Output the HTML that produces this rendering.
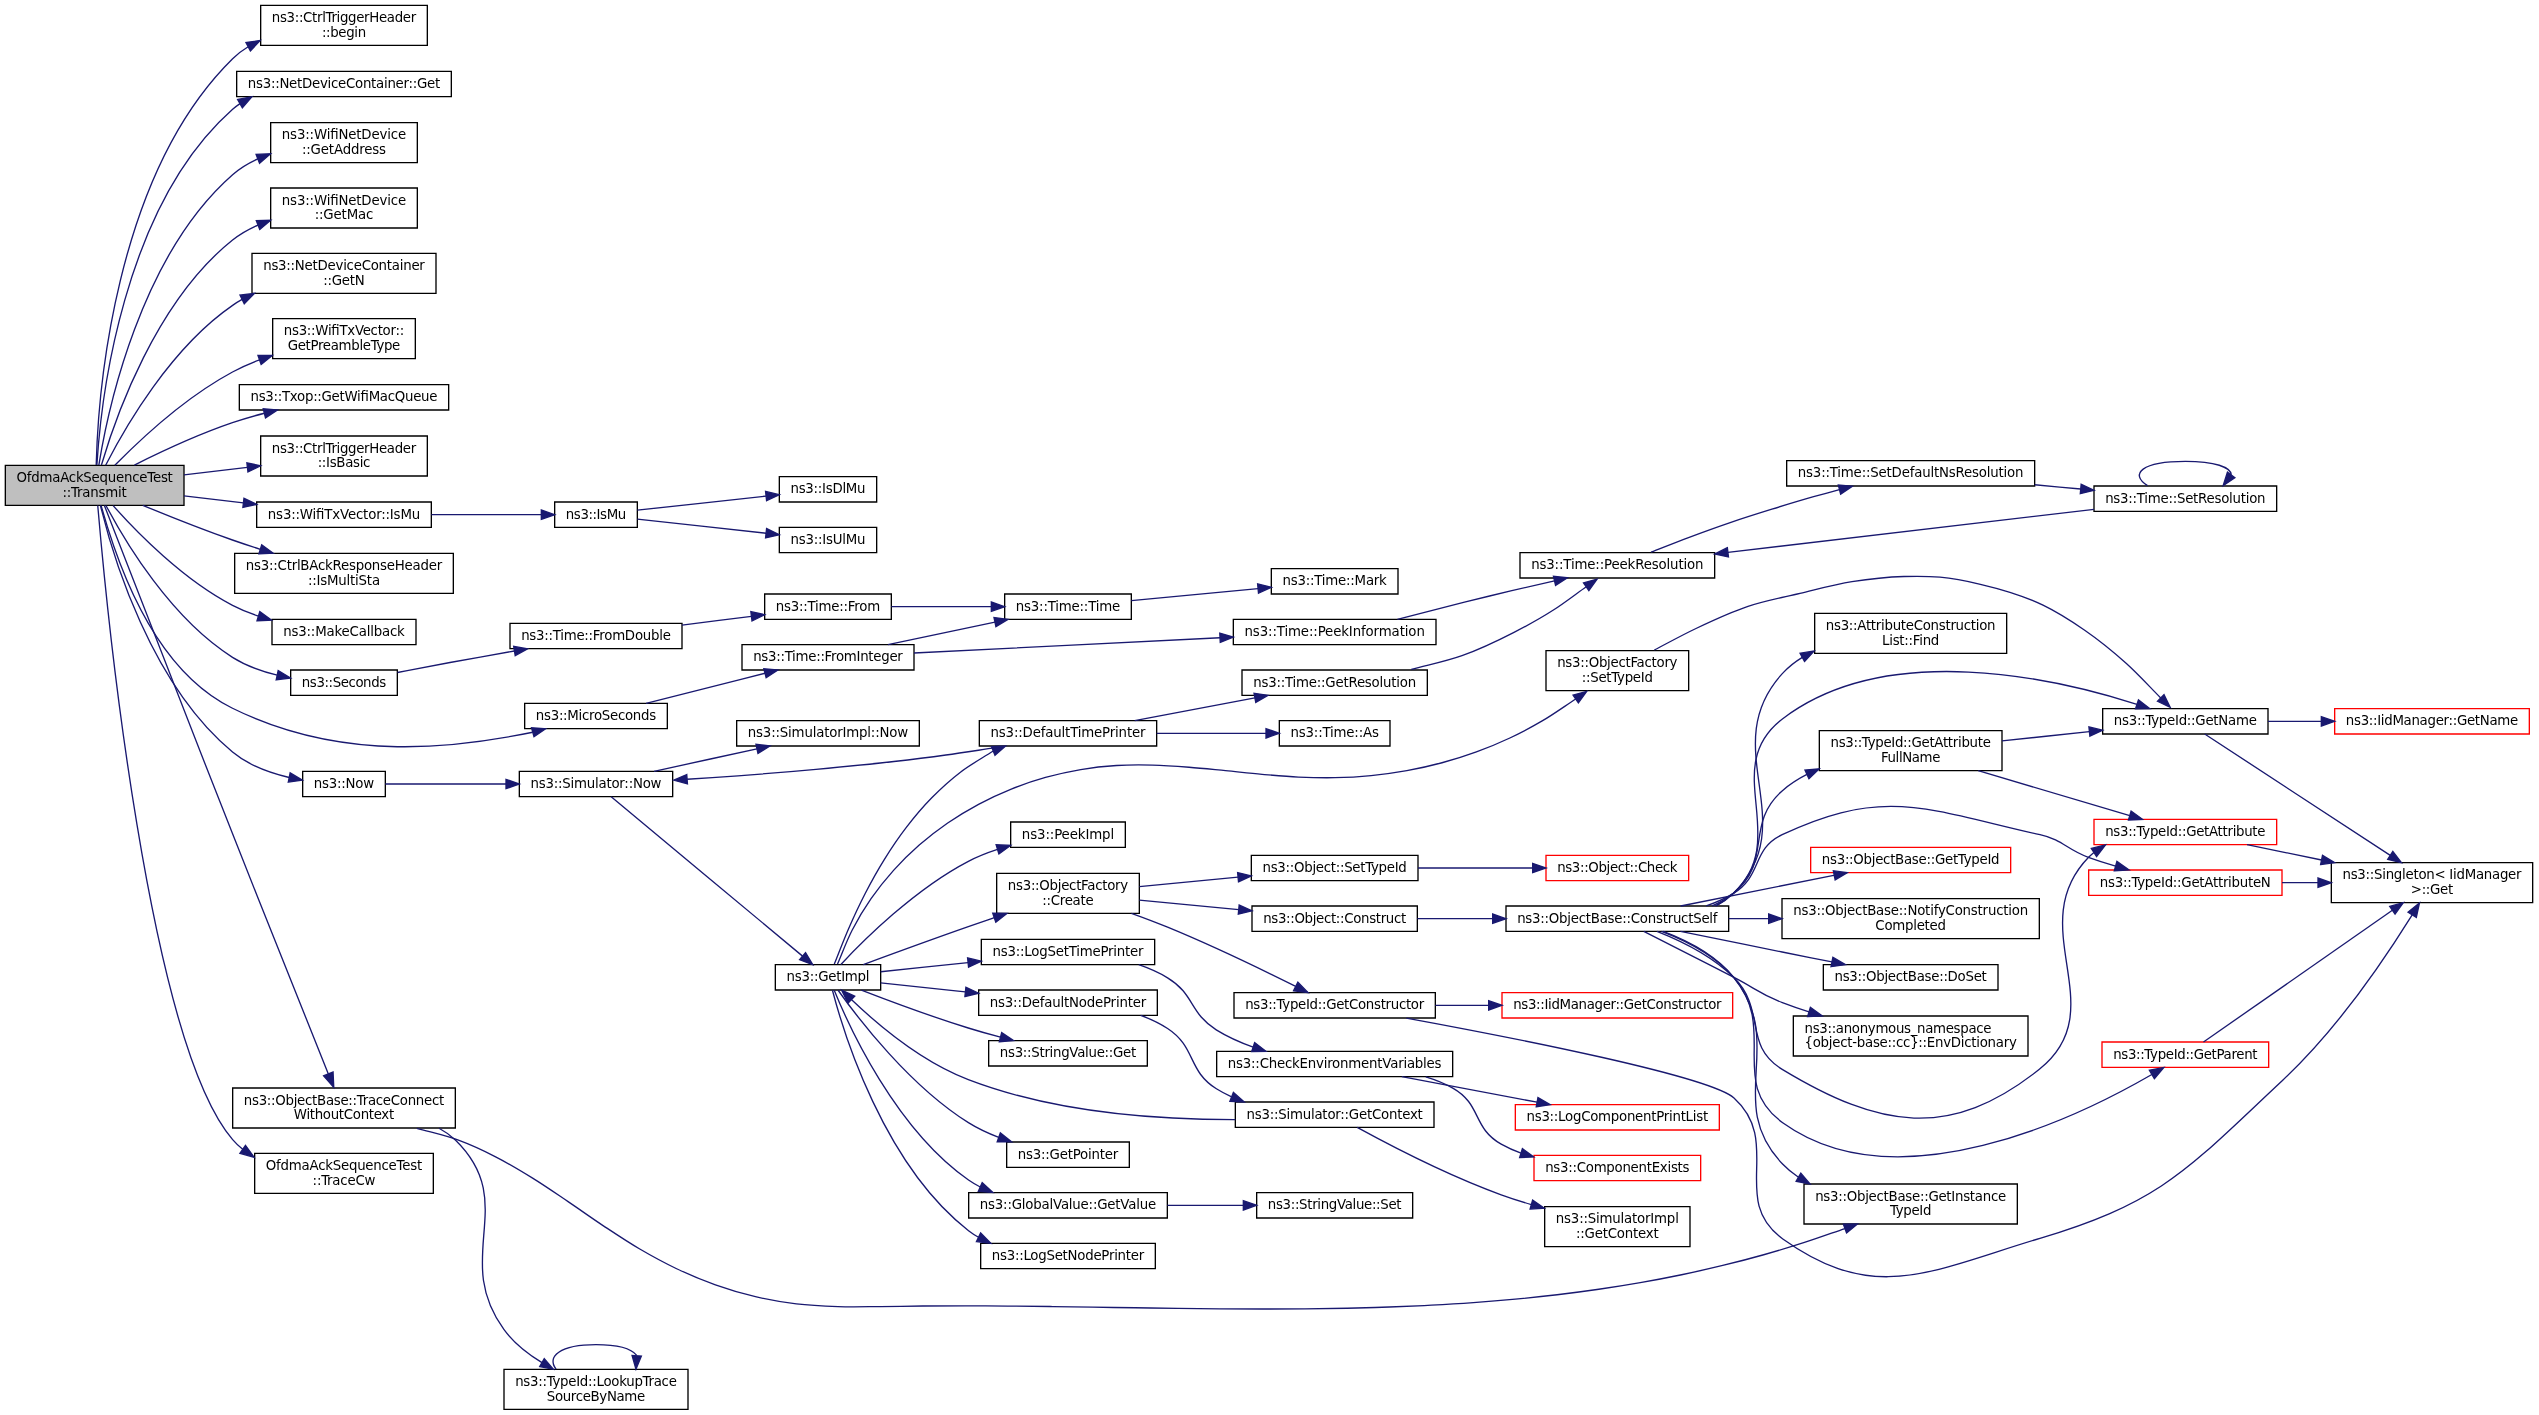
<!DOCTYPE html>
<html lang="en"><head><meta charset="utf-8"><title>OfdmaAckSequenceTest::Transmit</title>
<style>html,body{margin:0;padding:0;background:#fff}svg{display:block;will-change:transform}text{font-family:"DejaVu Sans","Liberation Sans",sans-serif;font-size:13.3333px;fill:#000}.e path{fill:none;stroke:#191970;stroke-width:1.3333}.e polygon{fill:#191970;stroke:#191970;stroke-width:1.3333}.n polygon{stroke-width:1.3333}</style></head><body>
<svg width="2539" height="1415" viewBox="0 0 2539 1415">
<rect x="0" y="0" width="2539" height="1415" fill="#fff"/>
<g class="n"><polygon fill="#bfbfbf" stroke="#000" points="5.33,505.33 5.33,465.33 184,465.33 184,505.33 5.33,505.33"/><text text-anchor="start" x="16.5" y="481.83" textLength="156.33" lengthAdjust="spacing">OfdmaAckSequenceTest</text><text text-anchor="middle" x="94.67" y="496.5" textLength="64.32" lengthAdjust="spacing">::Transmit</text></g>
<g class="n"><polygon fill="#fff" stroke="#000" points="260.67,45.33 260.67,5.33 427.33,5.33 427.33,45.33 260.67,45.33"/><text text-anchor="start" x="271.83" y="21.83" textLength="144.33" lengthAdjust="spacing">ns3::CtrlTriggerHeader</text><text text-anchor="middle" x="344" y="36.5" textLength="44.2" lengthAdjust="spacing">::begin</text></g>
<g class="n"><polygon fill="#fff" stroke="#000" points="236.67,96.67 236.67,71.33 451.33,71.33 451.33,96.67 236.67,96.67"/><text text-anchor="middle" x="344" y="87.83" textLength="192.33" lengthAdjust="spacing">ns3::NetDeviceContainer::Get</text></g>
<g class="n"><polygon fill="#fff" stroke="#000" points="270.67,162.67 270.67,122.67 417.33,122.67 417.33,162.67 270.67,162.67"/><text text-anchor="start" x="281.83" y="139.17" textLength="124.33" lengthAdjust="spacing">ns3::WifiNetDevice</text><text text-anchor="middle" x="344" y="153.83" textLength="84.15" lengthAdjust="spacing">::GetAddress</text></g>
<g class="n"><polygon fill="#fff" stroke="#000" points="270.67,228 270.67,188 417.33,188 417.33,228 270.67,228"/><text text-anchor="start" x="281.83" y="204.5" textLength="124.33" lengthAdjust="spacing">ns3::WifiNetDevice</text><text text-anchor="middle" x="344" y="219.17" textLength="58.57" lengthAdjust="spacing">::GetMac</text></g>
<g class="n"><polygon fill="#fff" stroke="#000" points="252,293.33 252,253.33 436,253.33 436,293.33 252,293.33"/><text text-anchor="start" x="263.17" y="269.83" textLength="161.67" lengthAdjust="spacing">ns3::NetDeviceContainer</text><text text-anchor="middle" x="344" y="284.5" textLength="41.36" lengthAdjust="spacing">::GetN</text></g>
<g class="n"><polygon fill="#fff" stroke="#000" points="272.67,358.67 272.67,318.67 415.33,318.67 415.33,358.67 272.67,358.67"/><text text-anchor="start" x="283.83" y="335.17" textLength="120.33" lengthAdjust="spacing">ns3::WifiTxVector::</text><text text-anchor="middle" x="344" y="349.83" textLength="112.62" lengthAdjust="spacing">GetPreambleType</text></g>
<g class="n"><polygon fill="#fff" stroke="#000" points="239.33,410 239.33,384.67 448.67,384.67 448.67,410 239.33,410"/><text text-anchor="middle" x="344" y="401.17" textLength="187" lengthAdjust="spacing">ns3::Txop::GetWifiMacQueue</text></g>
<g class="n"><polygon fill="#fff" stroke="#000" points="260.67,476 260.67,436 427.33,436 427.33,476 260.67,476"/><text text-anchor="start" x="271.83" y="452.5" textLength="144.33" lengthAdjust="spacing">ns3::CtrlTriggerHeader</text><text text-anchor="middle" x="344" y="467.17" textLength="52.7" lengthAdjust="spacing">::IsBasic</text></g>
<g class="n"><polygon fill="#fff" stroke="#000" points="256.67,527.33 256.67,502 431.33,502 431.33,527.33 256.67,527.33"/><text text-anchor="middle" x="344" y="518.5" textLength="152.33" lengthAdjust="spacing">ns3::WifiTxVector::IsMu</text></g>
<g class="n"><polygon fill="#fff" stroke="#000" points="234.67,593.33 234.67,553.33 453.33,553.33 453.33,593.33 234.67,593.33"/><text text-anchor="start" x="245.83" y="569.83" textLength="196.33" lengthAdjust="spacing">ns3::CtrlBAckResponseHeader</text><text text-anchor="middle" x="344" y="584.5" textLength="72.15" lengthAdjust="spacing">::IsMultiSta</text></g>
<g class="n"><polygon fill="#fff" stroke="#000" points="272,644.67 272,619.33 416,619.33 416,644.67 272,644.67"/><text text-anchor="middle" x="344" y="635.83" textLength="121.67" lengthAdjust="spacing">ns3::MakeCallback</text></g>
<g class="n"><polygon fill="#fff" stroke="#000" points="524.67,728.67 524.67,703.33 667.33,703.33 667.33,728.67 524.67,728.67"/><text text-anchor="middle" x="596" y="719.83" textLength="120.33" lengthAdjust="spacing">ns3::MicroSeconds</text></g>
<g class="n"><polygon fill="#fff" stroke="#000" points="302.67,796.67 302.67,771.33 385.33,771.33 385.33,796.67 302.67,796.67"/><text text-anchor="middle" x="344" y="787.83" textLength="60.33" lengthAdjust="spacing">ns3::Now</text></g>
<g class="n"><polygon fill="#fff" stroke="#000" points="290.67,695.33 290.67,670 397.33,670 397.33,695.33 290.67,695.33"/><text text-anchor="middle" x="344" y="686.5" textLength="84.33" lengthAdjust="spacing">ns3::Seconds</text></g>
<g class="n"><polygon fill="#fff" stroke="#000" points="232.67,1128 232.67,1088 455.33,1088 455.33,1128 232.67,1128"/><text text-anchor="start" x="243.83" y="1104.5" textLength="200.33" lengthAdjust="spacing">ns3::ObjectBase::TraceConnect</text><text text-anchor="middle" x="344" y="1119.17" textLength="100.38" lengthAdjust="spacing">WithoutContext</text></g>
<g class="n"><polygon fill="#fff" stroke="#000" points="254.67,1193.33 254.67,1153.33 433.33,1153.33 433.33,1193.33 254.67,1193.33"/><text text-anchor="start" x="265.83" y="1169.83" textLength="156.33" lengthAdjust="spacing">OfdmaAckSequenceTest</text><text text-anchor="middle" x="344" y="1184.5" textLength="62.79" lengthAdjust="spacing">::TraceCw</text></g>
<g class="n"><polygon fill="#fff" stroke="#000" points="554.67,527.33 554.67,502 637.33,502 637.33,527.33 554.67,527.33"/><text text-anchor="middle" x="596" y="518.5" textLength="60.33" lengthAdjust="spacing">ns3::IsMu</text></g>
<g class="n"><polygon fill="#fff" stroke="#000" points="779.33,502 779.33,476.67 876.67,476.67 876.67,502 779.33,502"/><text text-anchor="middle" x="828" y="493.17" textLength="75" lengthAdjust="spacing">ns3::IsDlMu</text></g>
<g class="n"><polygon fill="#fff" stroke="#000" points="779.33,552.67 779.33,527.33 876.67,527.33 876.67,552.67 779.33,552.67"/><text text-anchor="middle" x="828" y="543.83" textLength="75" lengthAdjust="spacing">ns3::IsUlMu</text></g>
<g class="n"><polygon fill="#fff" stroke="#000" points="742,670 742,644.67 914,644.67 914,670 742,670"/><text text-anchor="middle" x="828" y="661.17" textLength="149.67" lengthAdjust="spacing">ns3::Time::FromInteger</text></g>
<g class="n"><polygon fill="#fff" stroke="#000" points="1233.33,644.67 1233.33,619.33 1436,619.33 1436,644.67 1233.33,644.67"/><text text-anchor="middle" x="1334.67" y="635.83" textLength="180.33" lengthAdjust="spacing">ns3::Time::PeekInformation</text></g>
<g class="n"><polygon fill="#fff" stroke="#000" points="1004.67,619.33 1004.67,594 1131.33,594 1131.33,619.33 1004.67,619.33"/><text text-anchor="middle" x="1068" y="610.5" textLength="104.33" lengthAdjust="spacing">ns3::Time::Time</text></g>
<g class="n"><polygon fill="#fff" stroke="#000" points="1520,578 1520,552.67 1714.67,552.67 1714.67,578 1520,578"/><text text-anchor="middle" x="1617.33" y="569.17" textLength="172.33" lengthAdjust="spacing">ns3::Time::PeekResolution</text></g>
<g class="n"><polygon fill="#fff" stroke="#000" points="1786.67,486 1786.67,460.67 2034.67,460.67 2034.67,486 1786.67,486"/><text text-anchor="middle" x="1910.67" y="477.17" textLength="225.67" lengthAdjust="spacing">ns3::Time::SetDefaultNsResolution</text></g>
<g class="n"><polygon fill="#fff" stroke="#000" points="2094,511.33 2094,486 2276.67,486 2276.67,511.33 2094,511.33"/><text text-anchor="middle" x="2185.33" y="502.5" textLength="160.33" lengthAdjust="spacing">ns3::Time::SetResolution</text></g>
<g class="n"><polygon fill="#fff" stroke="#000" points="1271.33,594 1271.33,568.67 1398,568.67 1398,594 1271.33,594"/><text text-anchor="middle" x="1334.67" y="585.17" textLength="104.33" lengthAdjust="spacing">ns3::Time::Mark</text></g>
<g class="n"><polygon fill="#fff" stroke="#000" points="519.33,796.67 519.33,771.33 672.67,771.33 672.67,796.67 519.33,796.67"/><text text-anchor="middle" x="596" y="787.83" textLength="131" lengthAdjust="spacing">ns3::Simulator::Now</text></g>
<g class="n"><polygon fill="#fff" stroke="#000" points="775.33,990 775.33,964.67 880.67,964.67 880.67,990 775.33,990"/><text text-anchor="middle" x="828" y="981.17" textLength="83" lengthAdjust="spacing">ns3::GetImpl</text></g>
<g class="n"><polygon fill="#fff" stroke="#000" points="736.67,746 736.67,720.67 919.33,720.67 919.33,746 736.67,746"/><text text-anchor="middle" x="828" y="737.17" textLength="160.33" lengthAdjust="spacing">ns3::SimulatorImpl::Now</text></g>
<g class="n"><polygon fill="#fff" stroke="#000" points="996.67,913.33 996.67,873.33 1139.33,873.33 1139.33,913.33 996.67,913.33"/><text text-anchor="start" x="1007.83" y="889.83" textLength="120.33" lengthAdjust="spacing">ns3::ObjectFactory</text><text text-anchor="middle" x="1068" y="904.5" textLength="51.31" lengthAdjust="spacing">::Create</text></g>
<g class="n"><polygon fill="#fff" stroke="#000" points="978.67,1015.33 978.67,990 1157.33,990 1157.33,1015.33 978.67,1015.33"/><text text-anchor="middle" x="1068" y="1006.5" textLength="156.33" lengthAdjust="spacing">ns3::DefaultNodePrinter</text></g>
<g class="n"><polygon fill="#fff" stroke="#000" points="979.33,746 979.33,720.67 1156.67,720.67 1156.67,746 979.33,746"/><text text-anchor="middle" x="1068" y="737.17" textLength="155" lengthAdjust="spacing">ns3::DefaultTimePrinter</text></g>
<g class="n"><polygon fill="#fff" stroke="#000" points="988.67,1066 988.67,1040.67 1147.33,1040.67 1147.33,1066 988.67,1066"/><text text-anchor="middle" x="1068" y="1057.17" textLength="136.33" lengthAdjust="spacing">ns3::StringValue::Get</text></g>
<g class="n"><polygon fill="#fff" stroke="#000" points="1006.67,1167.33 1006.67,1142 1129.33,1142 1129.33,1167.33 1006.67,1167.33"/><text text-anchor="middle" x="1068" y="1158.5" textLength="100.33" lengthAdjust="spacing">ns3::GetPointer</text></g>
<g class="n"><polygon fill="#fff" stroke="#000" points="968.67,1218 968.67,1192.67 1167.33,1192.67 1167.33,1218 968.67,1218"/><text text-anchor="middle" x="1068" y="1209.17" textLength="176.33" lengthAdjust="spacing">ns3::GlobalValue::GetValue</text></g>
<g class="n"><polygon fill="#fff" stroke="#000" points="980.67,1268.67 980.67,1243.33 1155.33,1243.33 1155.33,1268.67 980.67,1268.67"/><text text-anchor="middle" x="1068" y="1259.83" textLength="152.33" lengthAdjust="spacing">ns3::LogSetNodePrinter</text></g>
<g class="n"><polygon fill="#fff" stroke="#000" points="981.33,964.67 981.33,939.33 1154.67,939.33 1154.67,964.67 981.33,964.67"/><text text-anchor="middle" x="1068" y="955.83" textLength="151" lengthAdjust="spacing">ns3::LogSetTimePrinter</text></g>
<g class="n"><polygon fill="#fff" stroke="#000" points="1010.67,847.33 1010.67,822 1125.33,822 1125.33,847.33 1010.67,847.33"/><text text-anchor="middle" x="1068" y="838.5" textLength="92.33" lengthAdjust="spacing">ns3::PeekImpl</text></g>
<g class="n"><polygon fill="#fff" stroke="#000" points="1546,690.67 1546,650.67 1688.67,650.67 1688.67,690.67 1546,690.67"/><text text-anchor="start" x="1557.17" y="667.17" textLength="120.33" lengthAdjust="spacing">ns3::ObjectFactory</text><text text-anchor="middle" x="1617.33" y="681.83" textLength="71.14" lengthAdjust="spacing">::SetTypeId</text></g>
<g class="n"><polygon fill="#fff" stroke="#000" points="1252,931.33 1252,906 1417.33,906 1417.33,931.33 1252,931.33"/><text text-anchor="middle" x="1334.67" y="922.5" textLength="143" lengthAdjust="spacing">ns3::Object::Construct</text></g>
<g class="n"><polygon fill="#fff" stroke="#000" points="1234,1018 1234,992.67 1435.33,992.67 1435.33,1018 1234,1018"/><text text-anchor="middle" x="1334.67" y="1009.17" textLength="179" lengthAdjust="spacing">ns3::TypeId::GetConstructor</text></g>
<g class="n"><polygon fill="#fff" stroke="#000" points="1251.33,880.67 1251.33,855.33 1418,855.33 1418,880.67 1251.33,880.67"/><text text-anchor="middle" x="1334.67" y="871.83" textLength="144.33" lengthAdjust="spacing">ns3::Object::SetTypeId</text></g>
<g class="n"><polygon fill="#fff" stroke="#000" points="1506,931.33 1506,906 1728.67,906 1728.67,931.33 1506,931.33"/><text text-anchor="middle" x="1617.33" y="922.5" textLength="200.33" lengthAdjust="spacing">ns3::ObjectBase::ConstructSelf</text></g>
<g class="n"><polygon fill="#fff" stroke="#000" points="1823.33,990 1823.33,964.67 1998,964.67 1998,990 1823.33,990"/><text text-anchor="middle" x="1910.67" y="981.17" textLength="152.33" lengthAdjust="spacing">ns3::ObjectBase::DoSet</text></g>
<g class="n"><polygon fill="#fff" stroke="#000" points="1793.33,1056 1793.33,1016 2028,1016 2028,1056 1793.33,1056"/><text text-anchor="start" x="1804.5" y="1032.5" textLength="186.99" lengthAdjust="spacing">ns3::anonymous_namespace</text><text text-anchor="middle" x="1910.67" y="1047.17" textLength="212.33" lengthAdjust="spacing">{object-base::cc}::EnvDictionary</text></g>
<g class="n"><polygon fill="#fff" stroke="#000" points="1814.67,653.33 1814.67,613.33 2006.67,613.33 2006.67,653.33 1814.67,653.33"/><text text-anchor="start" x="1825.83" y="629.83" textLength="169.67" lengthAdjust="spacing">ns3::AttributeConstruction</text><text text-anchor="middle" x="1910.67" y="644.5" textLength="57.26" lengthAdjust="spacing">List::Find</text></g>
<g class="n"><polygon fill="#fff" stroke="#f00" points="2094,844.67 2094,819.33 2276.67,819.33 2276.67,844.67 2094,844.67"/><text text-anchor="middle" x="2185.33" y="835.83" textLength="160.33" lengthAdjust="spacing">ns3::TypeId::GetAttribute</text></g>
<g class="n"><polygon fill="#fff" stroke="#000" points="1819.33,770.67 1819.33,730.67 2002,730.67 2002,770.67 1819.33,770.67"/><text text-anchor="start" x="1830.5" y="747.17" textLength="160.33" lengthAdjust="spacing">ns3::TypeId::GetAttribute</text><text text-anchor="middle" x="1910.67" y="761.83" textLength="59.48" lengthAdjust="spacing">FullName</text></g>
<g class="n"><polygon fill="#fff" stroke="#000" points="2102.67,734 2102.67,708.67 2268,708.67 2268,734 2102.67,734"/><text text-anchor="middle" x="2185.33" y="725.17" textLength="143" lengthAdjust="spacing">ns3::TypeId::GetName</text></g>
<g class="n"><polygon fill="#fff" stroke="#f00" points="2088.67,895.33 2088.67,870 2282,870 2282,895.33 2088.67,895.33"/><text text-anchor="middle" x="2185.33" y="886.5" textLength="171" lengthAdjust="spacing">ns3::TypeId::GetAttributeN</text></g>
<g class="n"><polygon fill="#fff" stroke="#000" points="1804,1224 1804,1184 2017.33,1184 2017.33,1224 1804,1224"/><text text-anchor="start" x="1815.17" y="1200.5" textLength="191" lengthAdjust="spacing">ns3::ObjectBase::GetInstance</text><text text-anchor="middle" x="1910.67" y="1215.17" textLength="41.47" lengthAdjust="spacing">TypeId</text></g>
<g class="n"><polygon fill="#fff" stroke="#f00" points="2102,1067.33 2102,1042 2268.67,1042 2268.67,1067.33 2102,1067.33"/><text text-anchor="middle" x="2185.33" y="1058.5" textLength="144.33" lengthAdjust="spacing">ns3::TypeId::GetParent</text></g>
<g class="n"><polygon fill="#fff" stroke="#f00" points="1810.67,872.67 1810.67,847.33 2010.67,847.33 2010.67,872.67 1810.67,872.67"/><text text-anchor="middle" x="1910.67" y="863.83" textLength="177.67" lengthAdjust="spacing">ns3::ObjectBase::GetTypeId</text></g>
<g class="n"><polygon fill="#fff" stroke="#000" points="1782,938.67 1782,898.67 2039.33,898.67 2039.33,938.67 1782,938.67"/><text text-anchor="start" x="1793.17" y="915.17" textLength="235" lengthAdjust="spacing">ns3::ObjectBase::NotifyConstruction</text><text text-anchor="middle" x="1910.67" y="929.83" textLength="70.61" lengthAdjust="spacing">Completed</text></g>
<g class="n"><polygon fill="#fff" stroke="#000" points="2331.33,902.67 2331.33,862.67 2532.67,862.67 2532.67,902.67 2331.33,902.67"/><text text-anchor="start" x="2342.5" y="879.17" textLength="179" lengthAdjust="spacing">ns3::Singleton&lt; IidManager</text><text text-anchor="middle" x="2432" y="893.83" textLength="42.35" lengthAdjust="spacing"> &gt;::Get</text></g>
<g class="n"><polygon fill="#fff" stroke="#f00" points="2334.67,734 2334.67,708.67 2529.33,708.67 2529.33,734 2334.67,734"/><text text-anchor="middle" x="2432" y="725.17" textLength="172.33" lengthAdjust="spacing">ns3::IidManager::GetName</text></g>
<g class="n"><polygon fill="#fff" stroke="#f00" points="1502,1018 1502,992.67 1732.67,992.67 1732.67,1018 1502,1018"/><text text-anchor="middle" x="1617.33" y="1009.17" textLength="208.33" lengthAdjust="spacing">ns3::IidManager::GetConstructor</text></g>
<g class="n"><polygon fill="#fff" stroke="#f00" points="1546,880.67 1546,855.33 1688.67,855.33 1688.67,880.67 1546,880.67"/><text text-anchor="middle" x="1617.33" y="871.83" textLength="120.33" lengthAdjust="spacing">ns3::Object::Check</text></g>
<g class="n"><polygon fill="#fff" stroke="#000" points="1235.33,1127.33 1235.33,1102 1434,1102 1434,1127.33 1235.33,1127.33"/><text text-anchor="middle" x="1334.67" y="1118.5" textLength="176.33" lengthAdjust="spacing">ns3::Simulator::GetContext</text></g>
<g class="n"><polygon fill="#fff" stroke="#000" points="1544.67,1246.67 1544.67,1206.67 1690,1206.67 1690,1246.67 1544.67,1246.67"/><text text-anchor="start" x="1555.83" y="1223.17" textLength="123" lengthAdjust="spacing">ns3::SimulatorImpl</text><text text-anchor="middle" x="1617.33" y="1237.83" textLength="82.76" lengthAdjust="spacing">::GetContext</text></g>
<g class="n"><polygon fill="#fff" stroke="#000" points="1279.33,746 1279.33,720.67 1390,720.67 1390,746 1279.33,746"/><text text-anchor="middle" x="1334.67" y="737.17" textLength="88.33" lengthAdjust="spacing">ns3::Time::As</text></g>
<g class="n"><polygon fill="#fff" stroke="#000" points="1242,695.33 1242,670 1427.33,670 1427.33,695.33 1242,695.33"/><text text-anchor="middle" x="1334.67" y="686.5" textLength="163" lengthAdjust="spacing">ns3::Time::GetResolution</text></g>
<g class="n"><polygon fill="#fff" stroke="#000" points="1256.67,1218 1256.67,1192.67 1412.67,1192.67 1412.67,1218 1256.67,1218"/><text text-anchor="middle" x="1334.67" y="1209.17" textLength="133.67" lengthAdjust="spacing">ns3::StringValue::Set</text></g>
<g class="n"><polygon fill="#fff" stroke="#000" points="1216.67,1076.67 1216.67,1051.33 1452.67,1051.33 1452.67,1076.67 1216.67,1076.67"/><text text-anchor="middle" x="1334.67" y="1067.83" textLength="213.67" lengthAdjust="spacing">ns3::CheckEnvironmentVariables</text></g>
<g class="n"><polygon fill="#fff" stroke="#f00" points="1534,1180.67 1534,1155.33 1700.67,1155.33 1700.67,1180.67 1534,1180.67"/><text text-anchor="middle" x="1617.33" y="1171.83" textLength="144.33" lengthAdjust="spacing">ns3::ComponentExists</text></g>
<g class="n"><polygon fill="#fff" stroke="#f00" points="1515.33,1130 1515.33,1104.67 1719.33,1104.67 1719.33,1130 1515.33,1130"/><text text-anchor="middle" x="1617.33" y="1121.17" textLength="181.67" lengthAdjust="spacing">ns3::LogComponentPrintList</text></g>
<g class="n"><polygon fill="#fff" stroke="#000" points="510,648.67 510,623.33 682,623.33 682,648.67 510,648.67"/><text text-anchor="middle" x="596" y="639.83" textLength="149.67" lengthAdjust="spacing">ns3::Time::FromDouble</text></g>
<g class="n"><polygon fill="#fff" stroke="#000" points="764.67,619.33 764.67,594 891.33,594 891.33,619.33 764.67,619.33"/><text text-anchor="middle" x="828" y="610.5" textLength="104.33" lengthAdjust="spacing">ns3::Time::From</text></g>
<g class="n"><polygon fill="#fff" stroke="#000" points="504,1409.33 504,1369.33 688,1369.33 688,1409.33 504,1409.33"/><text text-anchor="start" x="515.17" y="1385.83" textLength="161.67" lengthAdjust="spacing">ns3::TypeId::LookupTrace</text><text text-anchor="middle" x="596" y="1400.5" textLength="98.34" lengthAdjust="spacing">SourceByName</text></g>
<g class="e"><path d="M96.19,465.04C98.04,397.2 113.35,176.01 232.62,58.67 237.27,54.09 242.53,50.15 248.16,46.73"/><polygon points="250.35,50.94 260.17,40.47 245.96,42.53 250.35,50.94"/></g>
<g class="e"><path d="M96.88,464.93C100.87,401.65 121.99,207.16 232.63,109.33 234.96,107.28 237.43,105.37 239.99,103.61"/><polygon points="242.37,107.77 251.88,96.83 237.62,99.45 242.37,107.77"/></g>
<g class="e"><path d="M98.84,465.19C107.8,410.05 140.36,255.48 232.59,174.67 240.01,168.17 248.68,162.99 257.83,158.85"/><polygon points="259.58,163.3 270.55,153.85 256.08,154.4 259.58,163.3"/></g>
<g class="e"><path d="M101.44,465.04C115.2,418.07 155.69,301.23 232.58,240 240.18,233.95 248.9,229.03 258.01,225.05"/><polygon points="259.72,229.47 270.64,220.17 256.3,220.63 259.72,229.47"/></g>
<g class="e"><path d="M105.64,465.21C124.67,427.92 170.46,348.01 232.6,305.33 235.65,303.24 238.84,301.28 242.14,299.44"/><polygon points="244.27,303.75 254.44,293.35 240,295.13 244.27,303.75"/></g>
<g class="e"><path d="M114.85,465.28C139.67,440.12 185.54,397.24 232.52,372 241.01,367.44 250.2,363.43 259.54,359.89"/><polygon points="261.12,364.37 272.32,355.39 257.96,355.42 261.12,364.37"/></g>
<g class="e"><path d="M134.41,465.05C161.32,451.56 198.36,434.27 232.46,422.67 242.66,419.2 253.55,416.05 264.37,413.25"/><polygon points="265.5,417.84 277.48,410.01 263.23,408.66 265.5,417.84"/></g>
<g class="e"><path d="M184,474.82C205.14,472.34 226.28,469.85 247.42,467.36"/><polygon points="247.97,472 260.67,465.8 246.88,462.73 247.97,472"/></g>
<g class="e"><path d="M184,495.84C203.81,498.17 223.62,500.5 243.42,502.83"/><polygon points="242.88,507.47 256.67,504.39 243.97,498.2 242.88,507.47"/></g>
<g class="e"><path d="M142.81,505.33C169,516.16 202.29,529.44 232.46,540 241.44,543.15 250.89,546.27 260.31,549.27"/><polygon points="258.91,553.75 273.12,553.27 261.71,544.78 258.91,553.75"/></g>
<g class="e"><path d="M113.15,505.67C137.12,532.61 183.2,579.72 232.53,605.33 240.64,609.55 249.43,613.11 258.4,616.11"/><polygon points="256.99,620.72 271.57,620.13 259.8,611.49 256.99,620.72"/></g>
<g class="e"><path d="M101.13,505.59C114.2,552.55 149.57,667.15 232,708 345,764 459.45,747.15 532.75,732.25"/><polygon points="533.99,736.75 545.6,728.7 531.51,727.75 533.99,736.75"/></g>
<g class="e"><path d="M100.44,505.51C112.55,555.21 150.64,684.43 232.53,752 248.5,765.19 269.69,772.93 289.22,777.49"/><polygon points="288.28,782.1 302.37,780.17 290.15,772.89 288.28,782.1"/></g>
<g class="e"><path d="M105.96,505.45C125.2,541.85 170.89,618.47 232.51,657.33 245.87,665.76 261.73,671.39 277.18,675.16"/><polygon points="276.19,679.86 290.6,678 278.17,670.46 276.19,679.86"/></g>
<g class="e"><path d="M104.37,505.45C125.65,560.41 183.46,709.43 232.38,833.35 266.53,919.87 307.22,1021.39 328.34,1073.99"/><polygon points="323.63,1075.89 333.77,1087.45 333.06,1072.09 323.63,1075.89"/></g>
<g class="e"><path d="M97.75,505.56C106.54,607.65 148.42,1041.86 232.64,1139.59 235.7,1143.15 239.08,1146.37 242.69,1149.32"/><polygon points="239.91,1153.33 254.15,1157.27 245.47,1145.31 239.91,1153.33"/></g>
<g class="e"><path d="M431.33,514.67C468,514.67 504.67,514.67 541.33,514.67"/><polygon points="541.33,519.33 554.67,514.67 541.33,510 541.33,519.33"/></g>
<g class="e"><path d="M637.33,510.15C680.25,505.47 723.16,500.78 766.08,496.09"/><polygon points="766.59,500.73 779.33,494.65 765.57,491.46 766.59,500.73"/></g>
<g class="e"><path d="M637.33,519.18C680.25,523.87 723.16,528.55 766.08,533.24"/><polygon points="765.57,537.88 779.33,534.69 766.59,528.6 765.57,537.88"/></g>
<g class="e"><path d="M646.09,703.33C685.72,693.31 725.35,683.29 764.98,673.27"/><polygon points="766.13,677.79 777.91,670 763.84,668.74 766.13,677.79"/></g>
<g class="e"><path d="M914,653.03C1016.01,647.93 1118.01,642.83 1220.02,637.73"/><polygon points="1220.25,642.39 1233.33,637.07 1219.78,633.07 1220.25,642.39"/></g>
<g class="e"><path d="M888,644.67C923.65,637.14 959.3,629.61 994.95,622.09"/><polygon points="995.92,626.65 1008,619.33 993.99,617.52 995.92,626.65"/></g>
<g class="e"><path d="M1397.4,619.3C1419.77,613.57 1442.09,607.64 1464.5,602.1 1480.24,598.21 1496.02,594.43 1511.8,590.7 1526.02,587.34 1540.27,584.1 1554.51,580.8"/><polygon points="1555.56,585.35 1567.5,577.8 1553.46,576.25 1555.56,585.35"/></g>
<g class="e"><path d="M1651,552.2C1663.5,547.33 1675.94,542.31 1688.5,537.6 1702.33,532.41 1716.22,527.36 1730.2,522.6 1744.02,517.9 1757.96,513.53 1771.9,509.2 1785.76,504.9 1799.64,500.66 1813.6,496.7 1822.21,494.26 1830.85,491.97 1839.48,489.6"/><polygon points="1840.64,494.13 1852.4,486.3 1838.33,485.08 1840.64,494.13"/></g>
<g class="e"><path d="M2034.67,484.77C2050.02,486.19 2065.37,487.6 2080.72,489.02"/><polygon points="2080.29,493.67 2094,490.24 2081.15,484.37 2080.29,493.67"/></g>
<g class="e"><path d="M2094,509.39C1971.97,523.71 1849.94,538.03 1727.91,552.35"/><polygon points="1727.37,547.72 1714.67,553.91 1728.45,556.99 1727.37,547.72"/></g>
<g class="e"><path d="M2147.52,485.65C2129.12,473.91 2141.73,461.33 2185.33,461.33 2215.31,461.33 2230.64,467.28 2231.31,474.81"/><polygon points="2234.89,477.81 2223.15,485.65 2227.44,472.2 2234.89,477.81"/></g>
<g class="e"><path d="M1131.33,600.65C1173.58,596.64 1215.82,592.62 1258.06,588.61"/><polygon points="1258.5,593.26 1271.33,587.35 1257.62,583.97 1258.5,593.26"/></g>
<g class="e"><path d="M385.33,784C425.56,784 465.78,784 506,784"/><polygon points="506,788.67 519.33,784 506,779.33 506,788.67"/></g>
<g class="e"><path d="M611.2,796.67C674.99,849.82 738.77,902.98 802.56,956.13"/><polygon points="799.57,959.72 812.8,964.67 805.54,952.55 799.57,959.72"/></g>
<g class="e"><path d="M654,771.33C688.32,763.84 722.65,756.34 756.97,748.84"/><polygon points="757.97,753.4 770,746 755.98,744.29 757.97,753.4"/></g>
<g class="e"><path d="M863.28,964.61C891.42,954.23 932.36,939.25 968.31,926.67 976.69,923.73 985.49,920.69 994.26,917.71"/><polygon points="995.77,922.16 1006.99,913.37 992.74,913.25 995.77,922.16"/></g>
<g class="e"><path d="M880.67,982.89C908.91,985.87 937.16,988.86 965.41,991.84"/><polygon points="964.92,996.48 978.67,993.24 965.9,987.2 964.92,996.48"/></g>
<g class="e"><path d="M834.3,964.1C839.06,952.3 843.49,940.35 848.58,928.69 853.77,916.8 859.24,904.99 865.19,893.46 871.18,881.86 877.52,870.39 884.42,859.31 891.29,848.28 898.59,837.42 906.52,827.12 914.38,816.92 922.75,806.97 931.77,797.78 940.73,788.66 950.28,779.93 960.44,772.18 970.62,764.4 982.46,758.01 993.25,751.02"/><polygon points="995,755.34 1005.6,746 991.49,746.69 995,755.34"/></g>
<g class="e"><path d="M861.37,990.12C889.4,1000.96 931.17,1016.52 968.28,1028 978.62,1031.2 989.66,1034.32 1000.49,1037.21"/><polygon points="999.3,1041.77 1013.51,1040.61 1001.68,1032.66 999.3,1041.77"/></g>
<g class="e"><path d="M838.11,990.24C858.08,1018.37 909.47,1085.68 968.4,1122.67 977.72,1128.51 988.21,1133.39 998.76,1137.43"/><polygon points="997.18,1141.93 1011.63,1141.95 1000.35,1132.92 997.18,1141.93"/></g>
<g class="e"><path d="M834.23,990.15C848.83,1026.12 895.31,1128.81 968.53,1180 972.22,1182.57 976.15,1184.89 980.24,1186.97"/><polygon points="978.29,1191.4 992.89,1192.53 982.19,1182.54 978.29,1191.4"/></g>
<g class="e"><path d="M832.44,990.23C843.36,1032.01 883.6,1164.75 968.56,1230.67 971.7,1233.09 975.03,1235.29 978.53,1237.29"/><polygon points="976.43,1241.62 990.88,1243.28 980.63,1232.97 976.43,1241.62"/></g>
<g class="e"><path d="M880.67,971.77C909.8,968.7 938.94,965.62 968.07,962.55"/><polygon points="968.56,967.19 981.33,961.15 967.58,957.91 968.56,967.19"/></g>
<g class="e"><path d="M840.92,964.44C863.3,940.52 914.76,889.21 968.38,861.33 977.46,856.61 987.46,852.67 997.5,849.39"/><polygon points="998.88,853.99 1010.65,845.44 996.12,844.78 998.88,853.99"/></g>
<g class="e"><path d="M837.5,964.1C842.41,952.74 846.58,941 852.24,930.02 857.8,919.23 864.14,908.72 871.06,898.74 877.92,888.85 885.49,879.34 893.54,870.39 901.56,861.47 910.21,853.01 919.24,845.11 928.26,837.22 937.84,829.84 947.71,823.04 957.6,816.24 967.95,809.97 978.54,804.31 989.14,798.65 1000.12,793.54 1011.27,789.06 1022.43,784.58 1033.9,780.68 1045.48,777.43 1057.06,774.18 1068.88,771.53 1080.73,769.55 1092.58,767.57 1104.6,766.28 1116.59,765.54 1128.6,764.81 1140.7,764.85 1152.74,765.13 1164.87,765.4 1176.99,766.3 1189.09,767.22 1201.26,768.14 1213.4,769.49 1225.55,770.67 1237.73,771.86 1249.88,773.27 1262.07,774.33 1274.21,775.39 1286.37,776.49 1298.55,777.05 1310.66,777.61 1322.81,777.94 1334.93,777.7 1346.99,777.45 1359.08,776.77 1371.09,775.59 1383.05,774.42 1395.01,772.78 1406.84,770.64 1418.65,768.5 1430.41,765.88 1442,762.76 1453.6,759.64 1465.12,756.02 1476.4,751.9 1487.74,747.76 1498.94,743.11 1509.86,737.98 1520.87,732.8 1531.69,727.1 1542.18,720.93 1552.81,714.69 1565.38,705.71 1575.72,698.96"/><polygon points="1578.37,702.81 1586.7,691.4 1573.07,695.12 1578.37,702.81"/></g>
<g class="e"><path d="M1139.33,900.11C1172.46,903.26 1205.6,906.4 1238.73,909.55"/><polygon points="1238.29,914.2 1252,910.81 1239.17,904.91 1238.29,914.2"/></g>
<g class="e"><path d="M1131.39,913.35C1143.48,917.7 1155.99,922.43 1167.6,927.2 1212.33,945.6 1262.37,969.81 1295.69,986.45"/><polygon points="1293.53,990.77 1308.03,992.64 1297.86,982.14 1293.53,990.77"/></g>
<g class="e"><path d="M1139.33,886.56C1172.24,883.43 1205.15,880.3 1238.06,877.18"/><polygon points="1238.5,881.82 1251.33,875.92 1237.62,872.53 1238.5,881.82"/></g>
<g class="e"><path d="M1417.33,918.67C1442.44,918.67 1467.56,918.67 1492.67,918.67"/><polygon points="1492.67,923.33 1506,918.67 1492.67,914 1492.67,923.33"/></g>
<g class="e"><path d="M1680.45,931.4C1711.07,937.64 1748.54,945.25 1782.16,952 1798.26,955.23 1815.51,958.67 1831.95,961.93"/><polygon points="1831,966.69 1845.53,964.64 1832.89,957.18 1831,966.69"/></g>
<g class="e"><path d="M1643.77,931.39C1667.2,943.21 1703.02,961.35 1734.01,977.33 1755.58,988.45 1759.74,993.91 1782.39,1002.67 1790.92,1005.96 1799.9,1009.05 1808.98,1011.91"/><polygon points="1807.58,1016.57 1822.29,1015.91 1810.38,1007.25 1807.58,1016.57"/></g>
<g class="e"><path d="M1716.23,905.92C1722.52,902.53 1728.34,898.39 1733.41,893.33 1804.43,822.48 1714.71,747.25 1782.53,673.33 1788.28,667.08 1794.99,661.79 1802.27,657.32"/><polygon points="1804.5,661.48 1814.15,650.96 1800.05,653.16 1804.5,661.48"/></g>
<g class="e"><path d="M1656.93,931.35C1681.29,940.92 1712.14,956.07 1733.68,977.33 1766.61,1009.81 1742.59,1045.43 1782.21,1069.33 1879.94,1128.32 1950.02,1140.35 2039.36,1069.33 2115.21,1009.04 2021.17,926.89 2088.59,857.33 2090.28,855.6 2092.06,853.97 2093.94,852.45"/><polygon points="2096.58,856.51 2105.53,844.89 2091.29,848.39 2096.58,856.51"/></g>
<g class="e"><path d="M1712.21,905.88C1719.85,902.56 1727.08,898.43 1733.49,893.33 1773.1,861.84 1744.21,823.87 1782.4,790.67 1789.73,784.29 1798.08,778.93 1806.93,774.43"/><polygon points="1808.9,778.73 1819.23,768.8 1804.96,770.12 1808.9,778.73"/></g>
<g class="e"><path d="M1715.39,905.89C1721.96,902.52 1728.08,898.39 1733.44,893.33 1792.19,837.87 1718.3,767.47 1782.72,718.67 1887.29,639.44 2055.52,678.33 2136.98,704.35"/><polygon points="2135.5,708.82 2149.75,708.56 2138.45,699.88 2135.5,708.82"/></g>
<g class="e"><path d="M1706.24,905.83C1715.83,902.55 1725.13,898.45 1733.53,893.33 1762.45,875.69 1751.51,849.09 1782.17,834.67 1885.74,785.95 1928.23,809.77 2040.01,834.67 2063.19,839.83 2066.07,849.24 2088.39,857.33 2097.09,860.49 2106.38,863.44 2115.6,866.13"/><polygon points="2114.29,870.83 2129.03,869.88 2116.92,861.44 2114.29,870.83"/></g>
<g class="e"><path d="M1663.16,931.45C1687.32,940.55 1715.79,955.16 1733.64,977.33 1787.46,1044.23 1723.34,1101.81 1782.55,1164 1787.3,1169 1792.69,1173.37 1798.47,1177.21"/><polygon points="1796.12,1181.27 1810.05,1183.93 1800.82,1173.16 1796.12,1181.27"/></g>
<g class="e"><path d="M1661.47,931.48C1685.72,940.71 1714.82,955.43 1733.73,977.33 1778.3,1028.99 1727.24,1082.81 1782.68,1122.67 1897.57,1205.25 2078.67,1116.8 2151.85,1074.53"/><polygon points="2154.32,1078.72 2163.81,1067.47 2149.37,1070.34 2154.32,1078.72"/></g>
<g class="e"><path d="M1680.67,906C1731.86,895.76 1783.06,885.52 1834.26,875.28"/><polygon points="1835.17,879.86 1847.33,872.67 1833.34,870.71 1835.17,879.86"/></g>
<g class="e"><path d="M1728.67,918.67C1742,918.67 1755.33,918.67 1768.67,918.67"/><polygon points="1768.67,923.33 1782,918.67 1768.67,914 1768.67,923.33"/></g>
<g class="e"><path d="M2247,844.67C2271.86,849.77 2296.71,854.88 2321.57,859.98"/><polygon points="2320.63,864.56 2334.63,862.67 2322.51,855.41 2320.63,864.56"/></g>
<g class="e"><path d="M1978.21,770.67C2028.73,785.63 2079.25,800.59 2129.77,815.55"/><polygon points="2128.45,820.02 2142.56,819.33 2131.1,811.07 2128.45,820.02"/></g>
<g class="e"><path d="M2002,740.91C2031.14,737.8 2060.27,734.69 2089.41,731.58"/><polygon points="2089.9,736.22 2102.67,730.16 2088.91,726.94 2089.9,736.22"/></g>
<g class="e"><path d="M2204.7,734C2266.55,774.46 2328.41,814.91 2390.26,855.37"/><polygon points="2387.71,859.27 2401.42,862.67 2392.82,851.46 2387.71,859.27"/></g>
<g class="e"><path d="M2268,721.33C2285.78,721.33 2303.56,721.33 2321.33,721.33"/><polygon points="2321.33,726 2334.67,721.33 2321.33,716.67 2321.33,726"/></g>
<g class="e"><path d="M2282,882.67C2294,882.67 2306,882.67 2318,882.67"/><polygon points="2318,887.33 2331.33,882.67 2318,878 2318,887.33"/></g>
<g class="e"><path d="M2203.5,1042C2266.46,998.1 2329.42,954.2 2392.38,910.29"/><polygon points="2395.05,914.12 2403.32,902.67 2389.71,906.47 2395.05,914.12"/></g>
<g class="e"><path d="M1406.32,1018.05C1514.09,1037.83 1709.75,1076.16 1733.99,1098 1783.36,1142.47 1728.65,1200.41 1782.82,1238.92 1875.76,1304.97 1930.45,1270.99 2039.96,1238.35 2163.2,1201.62 2188.49,1168.19 2282.46,1080.44 2337.14,1029.36 2386.3,956.33 2412.2,914.79"/><polygon points="2416.34,917.33 2419.47,902.96 2408.06,912.24 2416.34,917.33"/></g>
<g class="e"><path d="M1435.33,1005.33C1453.11,1005.33 1470.89,1005.33 1488.67,1005.33"/><polygon points="1488.67,1010 1502,1005.33 1488.67,1000.67 1488.67,1010"/></g>
<g class="e"><path d="M1418,868C1456.22,868 1494.44,868 1532.67,868"/><polygon points="1532.67,872.67 1546,868 1532.67,863.33 1532.67,872.67"/></g>
<g class="e"><path d="M1140.65,1015.36C1150.11,1018.83 1159.36,1023.14 1167.59,1028.52 1196.28,1047.26 1187.37,1070.62 1216.4,1088.8 1221.22,1091.82 1226.34,1094.51 1231.63,1096.9"/><polygon points="1229.86,1101.31 1244.24,1101.96 1233.4,1092.49 1229.86,1101.31"/></g>
<g class="e"><path d="M1235.31,1119.68C1159.85,1119.76 1054.46,1112.66 968.31,1079.64 921.8,1061.81 877.04,1023.94 851.38,999.59"/><polygon points="854.7,996.16 841.59,990.08 848.05,1003.02 854.7,996.16"/></g>
<g class="e"><path d="M1357.2,1127.37C1388.09,1144.25 1447.49,1175.26 1501.19,1194.8 1510.83,1198.3 1521.08,1201.57 1531.36,1204.55"/><polygon points="1530.09,1209.08 1544.31,1208.17 1532.62,1200.02 1530.09,1209.08"/></g>
<g class="e"><path d="M995.3,747.7C978.83,750.13 962.39,752.75 945.9,755 928.59,757.36 911.25,759.5 893.9,761.5 867.98,764.48 841.99,766.92 816,769.3 790.02,771.68 764.02,773.89 738,775.8 721.11,777.04 704,778.08 687.1,779.22"/><polygon points="686.75,774.56 673.8,780.2 687.44,783.87 686.75,774.56"/></g>
<g class="e"><path d="M1156.67,733.33C1193.11,733.33 1229.56,733.33 1266,733.33"/><polygon points="1266,738 1279.33,733.33 1266,728.67 1266,738"/></g>
<g class="e"><path d="M1134.67,720.67C1174.74,713.05 1214.82,705.44 1254.9,697.82"/><polygon points="1255.77,702.41 1268,695.33 1254.03,693.24 1255.77,702.41"/></g>
<g class="e"><path d="M1411.3,669.5C1428.2,664.9 1445.54,661.53 1462,655.7 1479.85,649.38 1497.12,641.06 1514,632.4 1527.28,625.59 1540.44,618.36 1553,610.3 1563.69,603.44 1575.81,594.11 1586.18,586.75"/><polygon points="1588.85,590.57 1597.1,579.1 1583.5,582.92 1588.85,590.57"/></g>
<g class="e"><path d="M1167.33,1205.33C1192.67,1205.33 1218,1205.33 1243.33,1205.33"/><polygon points="1243.33,1210 1256.67,1205.33 1243.33,1200.67 1243.33,1210"/></g>
<g class="e"><path d="M1138.76,964.73C1148.8,968.19 1158.72,972.5 1167.58,977.84 1194.55,994.08 1189.47,1013.22 1216.24,1029.81 1227.56,1036.82 1240.32,1042.5 1253.16,1047.09"/><polygon points="1251.68,1051.58 1265.99,1051.33 1254.64,1042.6 1251.68,1051.58"/></g>
<g class="e"><path d="M1425.76,1076.83C1435.26,1079.68 1444.47,1083.36 1452.79,1088.09 1481.96,1104.66 1472.06,1127.54 1501.19,1144.15 1507.38,1147.69 1514.09,1150.63 1521.02,1153.09"/><polygon points="1519.65,1157.54 1533.75,1157.01 1522.4,1148.64 1519.65,1157.54"/></g>
<g class="e"><path d="M1401.8,1076.67C1446.9,1085.18 1492,1093.69 1537.1,1102.19"/><polygon points="1536.23,1106.78 1550.2,1104.67 1537.96,1097.61 1536.23,1106.78"/></g>
<g class="e"><path d="M1654.3,650C1668.2,642.83 1681.88,635.19 1696,628.5 1713.01,620.44 1730.19,612.33 1748,606.4 1764.9,600.77 1782.62,597.53 1800,593.4 1817.28,589.3 1834.49,584.52 1852,581.7 1869.17,578.93 1886.62,577.01 1904,576.5 1915.98,576.15 1928.08,576.1 1940,577.2 1953.58,578.45 1967.12,581.19 1980.4,584.3 2001.75,589.31 2023.3,595.63 2043,605.1 2057.54,612.09 2071.38,621 2084.7,630.2 2099.3,640.29 2113.21,651.61 2126.4,663.5 2138.06,674.01 2149.63,686.78 2160.73,697.92"/><polygon points="2157.44,701.23 2170.2,707.3 2164.01,694.6 2157.44,701.23"/></g>
<g class="e"><path d="M397.5,672.5C415,669.17 432.48,665.74 450,662.5 471.47,658.53 492.95,654.84 514.45,651.01"/><polygon points="515.22,655.61 527.6,648.8 513.68,646.41 515.22,655.61"/></g>
<g class="e"><path d="M682,625.13C705.15,622.2 728.29,619.27 751.44,616.35"/><polygon points="752.02,620.98 764.67,614.67 750.85,611.72 752.02,620.98"/></g>
<g class="e"><path d="M891.33,606.67C924.67,606.67 958,606.67 991.33,606.67"/><polygon points="991.33,611.33 1004.67,606.67 991.33,602 991.33,611.33"/></g>
<g class="e"><path d="M416.8,1128.3C430.45,1132.19 444.46,1135.12 457.76,1139.97 470.88,1144.75 483.65,1150.74 496.1,1157.09 508.6,1163.46 520.66,1170.76 532.61,1178.15 544.67,1185.61 556.33,1193.72 568.1,1201.64 579.93,1209.61 591.51,1217.95 603.4,1225.82 615.26,1233.67 627.08,1241.61 639.34,1248.79 651.5,1255.91 663.92,1262.71 676.65,1268.74 689.28,1274.72 702.25,1280.16 715.42,1284.83 728.51,1289.47 741.9,1293.5 755.41,1296.68 768.89,1299.86 782.64,1302.26 796.39,1303.92 810.21,1305.58 824.19,1306.16 838.12,1306.61 852.16,1307.07 866.24,1306.69 880.3,1306.6 894.43,1306.5 908.55,1306.15 922.68,1306.03 936.82,1305.91 950.96,1305.88 965.1,1305.88 979.26,1305.89 993.41,1305.98 1007.57,1306.09 1021.73,1306.19 1035.89,1306.36 1050.05,1306.54 1064.22,1306.71 1078.39,1306.93 1092.55,1307.14 1106.72,1307.35 1120.88,1307.58 1135.05,1307.79 1149.21,1307.99 1163.37,1308.21 1177.53,1308.38 1191.68,1308.55 1205.83,1308.72 1219.98,1308.82 1234.12,1308.93 1248.26,1309.01 1262.4,1309.01 1276.52,1309.01 1290.64,1308.97 1304.76,1308.84 1318.86,1308.71 1332.96,1308.52 1347.06,1308.22 1361.13,1307.92 1375.21,1307.54 1389.28,1307.04 1403.32,1306.54 1417.37,1305.94 1431.41,1305.2 1445.42,1304.46 1459.44,1303.62 1473.43,1302.61 1487.42,1301.6 1501.39,1300.46 1515.35,1299.15 1529.29,1297.84 1543.23,1296.39 1557.13,1294.74 1571.04,1293.09 1584.92,1291.28 1598.78,1289.26 1612.64,1287.24 1626.48,1285.05 1640.27,1282.63 1654.08,1280.2 1667.87,1277.58 1681.6,1274.73 1695.36,1271.87 1709.09,1268.79 1722.75,1265.47 1736.46,1262.13 1750.12,1258.57 1763.71,1254.74 1777.36,1250.9 1790.96,1246.81 1804.46,1242.45 1818.06,1238.07 1831.44,1233.17 1844.95,1228.52"/><polygon points="1846.54,1232.91 1857.5,1224 1843.37,1224.13 1846.54,1232.91"/></g>
<g class="e"><path d="M439.05,1128.24C445.05,1131.47 450.59,1135.37 455.37,1140.04 519.98,1203.06 451.21,1256.93 503.88,1329.45 513.59,1342.83 527.76,1353.93 541.99,1362.65"/><polygon points="539.72,1366.62 553.33,1369.15 544.26,1358.68 539.72,1366.62"/></g>
<g class="e"><path d="M556.04,1369.12C546.4,1356.59 559.72,1344.67 596,1344.67 618.11,1344.67 631.69,1349.09 636.75,1355.39"/><polygon points="641.39,1356.08 635.96,1369.12 632.07,1355.55 641.39,1356.08"/></g>
</svg></body></html>
